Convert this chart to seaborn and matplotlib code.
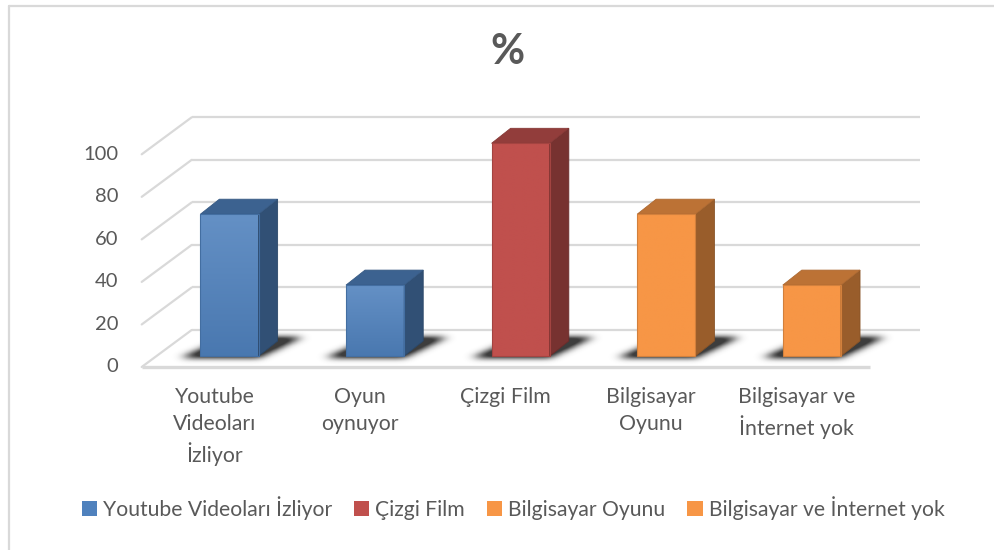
import numpy as np
import pandas as pd
import matplotlib
matplotlib.use("Agg")
import matplotlib.pyplot as plt
from matplotlib.patches import Polygon, Patch
from matplotlib.lines import Line2D
from matplotlib.colors import to_rgb
import seaborn as sns

# ---- data ----
categories = ["Youtube\nVideoları\nİzliyor", "Oyun\noynuyor", "Çizgi Film",
              "Bilgisayar\nOyunu", "Bilgisayar ve\nİnternet yok"]
values = [66.67, 33.33, 100.0, 66.67, 33.33]
bar_colors = ["#4F81BD", "#4F81BD", "#C0504D", "#F79646", "#F79646"]
y_ticks = [0, 20, 40, 60, 80, 100]
legend_labels = ["Youtube Videoları İzliyor", "Çizgi Film",
                 "Bilgisayar Oyunu", "Bilgisayar ve İnternet yok"]
legend_colors = ["#4F81BD", "#C0504D", "#F79646", "#F79646"]
title = "%"

W, H = 994, 550
TEXT = "#595959"
GRID = "#D9D9D9"

sns.set_theme(style="white")
plt.rcParams["font.family"] = ["Lato", "DejaVu Sans"]

fig = plt.figure(figsize=(W / 100, H / 100), dpi=100)
ax = fig.add_axes([0, 0, 1, 1])

# pixel geometry of the oblique projection
X0, SX = 229.5, 145.6      # category 0 centre (bar plane), px per category
Y0, SY = 356.0, 2.127      # value 0 (bar plane), px per unit
XLIM = (-X0 / SX, (W - X0) / SX)
YLIM = ((Y0 - H) / SY, Y0 / SY)

# offsets of the front edge and back wall relative to the bar plane
fdx, fdv = -15 / SX, -11 / SY
bdx, bdv = 35 / SX, 26 / SY
# bar depth
ddx, ddv = 19 / SX, 15 / SY

df = pd.DataFrame({"kategori": categories, "deger": values})
sns.barplot(data=df, x="kategori", y="deger", hue="kategori",
            palette=bar_colors, width=0.40, saturation=1, legend=False,
            ax=ax, zorder=5, linewidth=0)
ax.set_xlim(*XLIM)
ax.set_ylim(*YLIM)
ax.axis("off")

# ---- walls: back gridlines, side diagonals, floor front edge ----
x_left_front = -0.5 + fdx
x_right_front = len(categories) - 0.5 + fdx
x_left_back = -0.5 + bdx
x_right_back = len(categories) - 0.5 + bdx
for v in y_ticks:
    ax.plot([x_left_back, x_right_back], [v + bdv, v + bdv],
            color=GRID, lw=1.6, zorder=1, solid_capstyle="butt")
    ax.plot([x_left_front, x_left_back], [v + fdv, v + bdv],
            color=GRID, lw=1.6, zorder=1)
ax.plot([x_left_front, x_right_front], [fdv, fdv], color=GRID, lw=2.4,
        zorder=1, solid_capstyle="butt")

# y tick labels on the front edge
for v in y_ticks:
    ax.text((118 - X0) / SX, v + fdv, f"{v}", ha="right", va="center",
            fontsize=14.5, color=TEXT)

# category labels on the front edge
for i, lab in enumerate(categories):
    ax.text(i + fdx, fdv - 9.5, lab, ha="center", va="top", fontsize=15.3,
            color=TEXT, linespacing=1.42)


def shade(c, f):
    r, g, b = to_rgb(c)
    if f < 1:
        return (r * f, g * f, b * f)
    return tuple(x + (1 - x) * (f - 1) for x in (r, g, b))


def blur1d(a, sigma, axis):
    k = np.arange(-int(3 * sigma), int(3 * sigma) + 1)
    g = np.exp(-0.5 * (k / sigma) ** 2)
    g /= g.sum()
    return np.apply_along_axis(lambda m: np.convolve(m, g, mode="same"), axis, a)


# ---- 3D faces and floor shadows from the drawn bars ----
for patch, col in zip(ax.patches, bar_colors):
    x0 = patch.get_x()
    x1 = x0 + patch.get_width()
    h = patch.get_height()

    # soft shadow on the floor
    pad_l, pad_r, pad_t, pad_b = 0.34, 0.45, 13, 6
    ex = (x0 - pad_l, x1 + pad_r, -pad_b, ddv + pad_t)
    nx, ny = 200, 70
    gx = np.linspace(ex[0], ex[1], nx)
    gy = np.linspace(ex[2], ex[3], ny)
    XX, YY = np.meshgrid(gx, gy)
    t = np.clip((YY + 0.8) / (ddv + 2.5), 0, 1)
    lo = x0 - 0.13 + t * (ddx + 0.18)
    hi = x1 + 0.0 + t * (ddx + 0.16)
    inside = ((XX >= lo) & (XX <= hi) & (YY >= -0.8) & (YY <= ddv + 1.7)).astype(float)
    inside = blur1d(inside, 6.0, 1)
    inside = blur1d(inside, 3.4, 0)
    rgba = np.zeros((ny, nx, 4))
    rgba[..., :3] = 0.17
    rgba[..., 3] = np.clip(1.3 * inside, 0, 0.92)
    ax.imshow(rgba, extent=ex, origin="lower", aspect="auto", zorder=3,
              interpolation="bilinear")

    # front face gradient
    grad = np.linspace(0, 1, 64).reshape(-1, 1)
    top_c = np.array(shade(col, 1.12 if col == "#4F81BD" else 1.0))
    bot_c = np.array(shade(col, 0.93 if col == "#4F81BD" else 1.0))
    img = bot_c + (top_c - bot_c) * grad
    im = ax.imshow(img.reshape(64, 1, 3), extent=(x0, x1, 0, h), origin="lower",
                   aspect="auto", zorder=6, interpolation="bilinear")
    im.set_clip_path(patch)
    ax.add_patch(Polygon([(x0, 0), (x1, 0), (x1, h), (x0, h)], closed=True,
                         fill=False, edgecolor=shade(col, 0.85), lw=0.8, zorder=7))

    # side face
    ax.add_patch(Polygon([(x1, 0), (x1 + ddx, ddv), (x1 + ddx, h + ddv), (x1, h)],
                         closed=True, facecolor=shade(col, 0.62),
                         edgecolor=shade(col, 0.55), lw=0.6, zorder=6))
    # top face
    ax.add_patch(Polygon([(x0, h), (x1, h), (x1 + ddx, h + ddv), (x0 + ddx, h + ddv)],
                         closed=True, facecolor=shade(col, 0.76),
                         edgecolor=shade(col, 0.7), lw=0.6, zorder=6))

ax.set_xlim(*XLIM)
ax.set_ylim(*YLIM)

# ---- title ----
fig.text(507 / W, 1 - 52 / H, title, ha="center", va="center", fontsize=30,
         fontweight="bold", color=TEXT)

# ---- legend ----
handles = [Patch(facecolor=c, edgecolor="none") for c in legend_colors]
fig.legend(handles, legend_labels, loc="center", ncol=4, frameon=False,
           bbox_to_anchor=(513 / W, 1 - 508 / H), fontsize=15.2,
           labelcolor=TEXT, handlelength=0.72, handleheight=0.72,
           handletextpad=0.28, columnspacing=1.05)

# ---- chart border (left and top edges) ----
fig.add_artist(Line2D([8.5 / W, 8.5 / W], [0, 1 - 5.5 / H], transform=fig.transFigure,
                      color=GRID, lw=1.6))
fig.add_artist(Line2D([8.5 / W, 1], [1 - 5.5 / H, 1 - 5.5 / H], transform=fig.transFigure,
                      color=GRID, lw=1.6))

fig.savefig("out.png", dpi=100, facecolor="white")
